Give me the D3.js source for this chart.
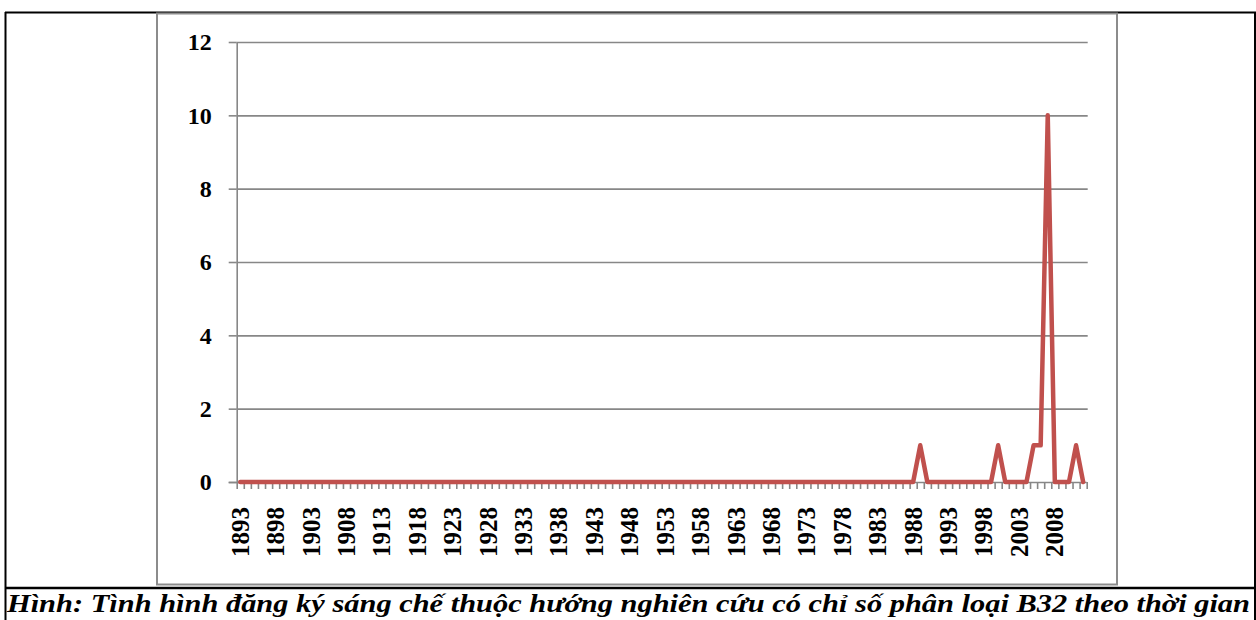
<!DOCTYPE html>
<html>
<head>
<meta charset="utf-8">
<script src="https://cdn.jsdelivr.net/npm/d3@7/dist/d3.min.js"></script>
<style>
  html, body { margin: 0; padding: 0; background: #fff; }
  svg { display: block; }
</style>
</head>
<body>
<svg id="chart" width="1256" height="620"></svg>
<script>
// Patent filings per year, classification B32
const years = [
  1893, 1894, 1895, 1896, 1897, 1898, 1899, 1900, 1901, 1902,
  1903, 1904, 1905, 1906, 1907, 1908, 1909, 1910, 1911, 1912,
  1913, 1914, 1915, 1916, 1917, 1918, 1919, 1920, 1921, 1922,
  1923, 1924, 1925, 1926, 1927, 1928, 1929, 1930, 1931, 1932,
  1933, 1934, 1935, 1936, 1937, 1938, 1939, 1940, 1941, 1942,
  1943, 1944, 1945, 1946, 1947, 1948, 1949, 1950, 1951, 1952,
  1953, 1954, 1955, 1956, 1957, 1958, 1959, 1960, 1961, 1962,
  1963, 1964, 1965, 1966, 1967, 1968, 1969, 1970, 1971, 1972,
  1973, 1974, 1975, 1976, 1977, 1978, 1979, 1980, 1981, 1982,
  1983, 1984, 1985, 1986, 1987, 1988, 1989, 1990, 1991, 1992,
  1993, 1994, 1995, 1996, 1997, 1998, 1999, 2000, 2001, 2002,
  2003, 2004, 2005, 2006, 2007, 2008, 2009, 2010, 2011, 2012
];

const counts = [
  0, 0, 0, 0, 0, 0, 0, 0, 0, 0,
  0, 0, 0, 0, 0, 0, 0, 0, 0, 0,
  0, 0, 0, 0, 0, 0, 0, 0, 0, 0,
  0, 0, 0, 0, 0, 0, 0, 0, 0, 0,
  0, 0, 0, 0, 0, 0, 0, 0, 0, 0,
  0, 0, 0, 0, 0, 0, 0, 0, 0, 0,
  0, 0, 0, 0, 0, 0, 0, 0, 0, 0,
  0, 0, 0, 0, 0, 0, 0, 0, 0, 0,
  0, 0, 0, 0, 0, 0, 0, 0, 0, 0,
  0, 0, 0, 0, 0, 0, 1, 0, 0, 0,
  0, 0, 0, 0, 0, 0, 0, 1, 0, 0,
  0, 0, 1, 1, 10, 0, 0, 0, 1, 0
];

const yTicks = [0, 2, 4, 6, 8, 10, 12];

const xTickLabels = [
  "1893", "1898", "1903", "1908", "1913", "1918", "1923", "1928",
  "1933", "1938", "1943", "1948", "1953", "1958", "1963", "1968",
  "1973", "1978", "1983", "1988", "1993", "1998", "2003", "2008"
];

const caption = "Hình: Tình hình đăng ký sáng chế thuộc hướng nghiên cứu có chỉ số phân loại B32 theo thời gian";

const svg = d3.select("#chart");
const plot = { left: 236.7, right: 1086.7, top: 42, bottom: 482 };
const gray = "#878787";
const serif = '"Liberation Serif", "Times New Roman", serif';

// Table frame around the figure and its caption row
svg.append("line").attr("x1", 5).attr("x2", 1256).attr("y1", 12.5).attr("y2", 12.5)
  .attr("stroke", "#000").attr("stroke-width", 2);
svg.append("line").attr("x1", 5.5).attr("x2", 5.5).attr("y1", 12).attr("y2", 620)
  .attr("stroke", "#000").attr("stroke-width", 2);
svg.append("line").attr("x1", 1255).attr("x2", 1255).attr("y1", 12).attr("y2", 620)
  .attr("stroke", "#000").attr("stroke-width", 2);
svg.append("line").attr("x1", 5).attr("x2", 1256).attr("y1", 588).attr("y2", 588)
  .attr("stroke", "#000").attr("stroke-width", 2.5);

// Chart area border
svg.append("rect")
  .attr("x", 157).attr("y", 13.5).attr("width", 960).attr("height", 571)
  .attr("fill", "none").attr("stroke", "#8c8c8c").attr("stroke-width", 2);

// Scales
const x = d3.scaleBand().domain(years).range([plot.left, plot.right]).paddingInner(0).paddingOuter(0);
const xc = d => x(d) + x.bandwidth() / 2;
const xIdx = d3.scaleLinear().domain([0, years.length]).range([plot.left, plot.right]);
const y = d3.scaleLinear().domain([0, 12]).range([plot.bottom, plot.top]);

// Horizontal gridlines
const grid = svg.append("g").attr("transform", `translate(${plot.left},0)`)
  .call(d3.axisLeft(y).tickValues(yTicks.filter(v => v > 0))
    .tickSize(-(plot.right - plot.left + 1)).tickFormat(""));
grid.select(".domain").remove();
grid.selectAll(".tick line").attr("stroke", gray).attr("stroke-width", 1.6);

// Y axis with outward tick marks
const yAxis = svg.append("g").attr("transform", `translate(${plot.left},0)`)
  .call(d3.axisLeft(y).tickValues(yTicks).tickSize(8).tickSizeOuter(0).tickPadding(17));
yAxis.select(".domain").attr("stroke", gray).attr("stroke-width", 1.6);
yAxis.selectAll(".tick line").attr("stroke", gray).attr("stroke-width", 1.6);
yAxis.selectAll(".tick text")
  .style("font-family", serif).style("font-weight", "bold").style("font-size", "24px")
  .attr("fill", "#000");

// X axis: tick marks on category boundaries
const xAxis = svg.append("g").attr("transform", `translate(0,${plot.bottom})`)
  .call(d3.axisBottom(xIdx).tickValues(d3.range(years.length + 1))
    .tickSize(7).tickSizeOuter(0).tickFormat(""));
xAxis.select(".domain").attr("stroke", gray).attr("stroke-width", 1.6)
  .attr("d", `M${plot.left - 8},0.5H${plot.right}`);
xAxis.selectAll(".tick line").attr("stroke", gray).attr("stroke-width", 1.6);

// Rotated year labels every fifth category
svg.append("g").selectAll("text")
  .data(xTickLabels)
  .join("text")
  .attr("transform", d => `translate(${xc(+d)},507) rotate(-90)`)
  .attr("text-anchor", "end")
  .attr("dy", "0.34em")
  .style("font-family", serif).style("font-weight", "bold").style("font-size", "25px")
  .attr("fill", "#000")
  .text(d => d);

// Series line
const line = d3.line().x((d, i) => xc(years[i])).y(d => y(d));
svg.append("path")
  .datum(counts)
  .attr("d", line)
  .attr("fill", "none")
  .attr("stroke", "#C0504D")
  .attr("stroke-width", 4.5)
  .attr("stroke-linejoin", "round")
  .attr("stroke-linecap", "round");

// Caption
svg.append("text")
  .attr("x", 7).attr("y", 612)
  .attr("textLength", 1243).attr("lengthAdjust", "spacingAndGlyphs")
  .style("font-family", serif).style("font-weight", "bold").style("font-style", "italic")
  .style("font-size", "26px").attr("fill", "#000")
  .text(caption);
</script>
</body>
</html>
